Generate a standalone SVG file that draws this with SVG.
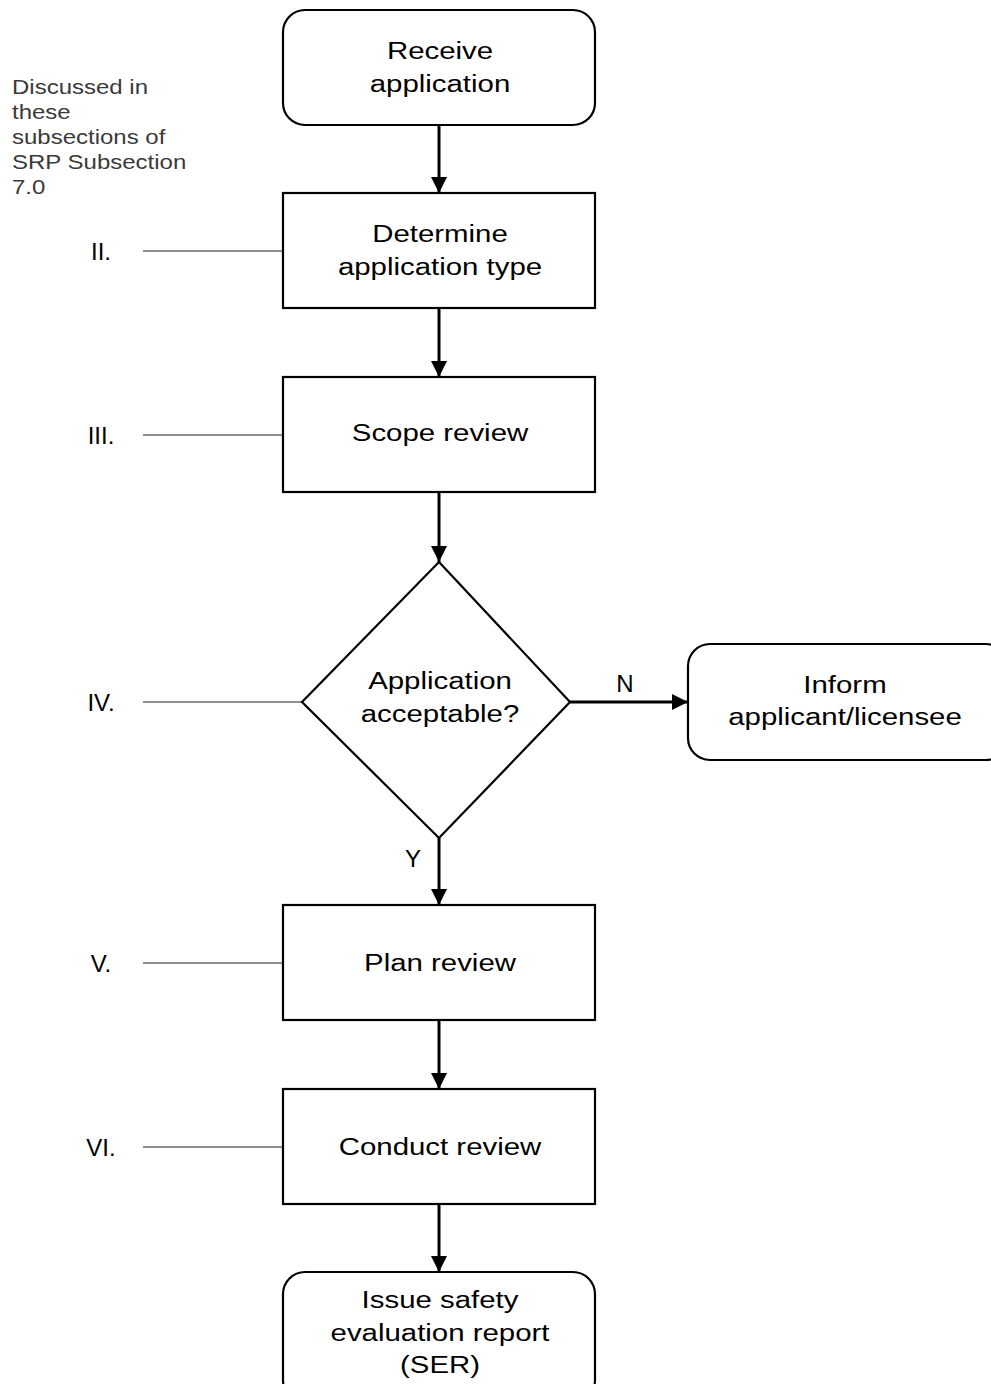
<svg xmlns="http://www.w3.org/2000/svg" width="991" height="1384" viewBox="0 0 991 1384">
<style>
.box{fill:#fff;stroke:#000;stroke-width:2.2}
.t{font-family:"Liberation Sans",Arial,sans-serif;font-size:24.5px;fill:#000;text-anchor:middle}
.lbl{font-family:"Liberation Sans",Arial,sans-serif;font-size:24px;fill:#000;text-anchor:middle}
.note{font-family:"Liberation Sans",Arial,sans-serif;font-size:20px;fill:#3a3a3a}
.ref{stroke:#222;stroke-width:1.1;fill:none}
.con{stroke:#000;stroke-width:3;fill:none;marker-end:url(#ah)}
</style>
<defs>
<marker id="ah" markerWidth="16" markerHeight="16" refX="16" refY="8" orient="auto" markerUnits="userSpaceOnUse">
<path d="M0,0 L16,8 L0,16 Z" fill="#000"/>
</marker>
</defs>
<rect width="991" height="1384" fill="#fff"/>
<g id="note">
<text class="note" transform="translate(12 0) scale(1.2 1)" x="0" y="94">Discussed in</text>
<text class="note" transform="translate(12 0) scale(1.2 1)" x="0" y="119">these</text>
<text class="note" transform="translate(12 0) scale(1.2 1)" x="0" y="144">subsections of</text>
<text class="note" transform="translate(12 0) scale(1.2 1)" x="0" y="169">SRP Subsection</text>
<text class="note" transform="translate(12 0) scale(1.2 1)" x="0" y="194">7.0</text>
</g>
<g id="section-labels">
<text class="lbl" x="101" y="260">II.</text>
<text class="lbl" x="101" y="444">III.</text>
<text class="lbl" x="101" y="711">IV.</text>
<text class="lbl" x="101" y="972">V.</text>
<text class="lbl" x="101" y="1156">VI.</text>
<line class="ref" x1="143" y1="251" x2="283" y2="251"/>
<line class="ref" x1="143" y1="435" x2="283" y2="435"/>
<line class="ref" x1="143" y1="702" x2="302" y2="702"/>
<line class="ref" x1="143" y1="963" x2="283" y2="963"/>
<line class="ref" x1="143" y1="1147" x2="283" y2="1147"/>
</g>
<g id="connectors">
<line class="con" x1="439" y1="125" x2="439" y2="193"/>
<line class="con" x1="439" y1="308" x2="439" y2="377"/>
<line class="con" x1="439" y1="492" x2="439" y2="562"/>
<line class="con" x1="570" y1="702" x2="688" y2="702"/>
<line class="con" x1="439" y1="838" x2="439" y2="905"/>
<line class="con" x1="439" y1="1020" x2="439" y2="1089"/>
<line class="con" x1="439" y1="1204" x2="439" y2="1272"/>
<text class="lbl" x="625" y="692">N</text>
<text class="lbl" x="413" y="867">Y</text>
</g>
<g id="receive">
<rect class="box" x="283" y="10" width="312" height="115" rx="22"/>
<text class="t" transform="translate(440 0) scale(1.2 1)" x="0" y="59">Receive</text>
<text class="t" transform="translate(440 0) scale(1.2 1)" x="0" y="92">application</text>
</g>
<g id="determine">
<rect class="box" x="283" y="193" width="312" height="115"/>
<text class="t" transform="translate(440 0) scale(1.2 1)" x="0" y="242">Determine</text>
<text class="t" transform="translate(440 0) scale(1.2 1)" x="0" y="275">application type</text>
</g>
<g id="scope">
<rect class="box" x="283" y="377" width="312" height="115"/>
<text class="t" transform="translate(440 0) scale(1.2 1)" x="0" y="441">Scope review</text>
</g>
<g id="decision">
<path class="box" d="M439,562 L570,702 L439,838 L302,702 Z"/>
<text class="t" transform="translate(440 0) scale(1.2 1)" x="0" y="689">Application</text>
<text class="t" transform="translate(440 0) scale(1.2 1)" x="0" y="722">acceptable?</text>
</g>
<g id="inform">
<rect class="box" x="688" y="644" width="320" height="116" rx="22"/>
<text class="t" transform="translate(845 0) scale(1.2 1)" x="0" y="693">Inform</text>
<text class="t" transform="translate(845 0) scale(1.2 1)" x="0" y="725">applicant/licensee</text>
</g>
<g id="plan">
<rect class="box" x="283" y="905" width="312" height="115"/>
<text class="t" transform="translate(440 0) scale(1.2 1)" x="0" y="971">Plan review</text>
</g>
<g id="conduct">
<rect class="box" x="283" y="1089" width="312" height="115"/>
<text class="t" transform="translate(440 0) scale(1.2 1)" x="0" y="1155">Conduct review</text>
</g>
<g id="issue">
<rect class="box" x="283" y="1272" width="312" height="130" rx="22"/>
<text class="t" transform="translate(440 0) scale(1.2 1)" x="0" y="1308">Issue safety</text>
<text class="t" transform="translate(440 0) scale(1.2 1)" x="0" y="1341">evaluation report</text>
<text class="t" transform="translate(440 0) scale(1.2 1)" x="0" y="1373">(SER)</text>
</g>
</svg>
